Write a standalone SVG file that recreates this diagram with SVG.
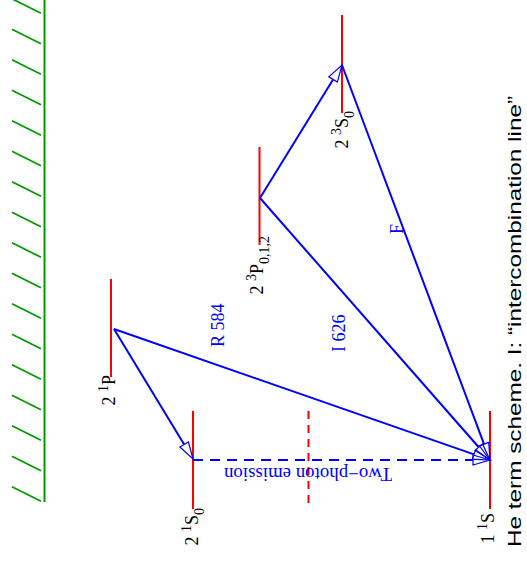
<svg xmlns="http://www.w3.org/2000/svg" width="527" height="565" viewBox="0 0 527 565">
<style>
.lvl{stroke:#ff0000;stroke-width:2;fill:none}
.tr{stroke:#0000ff;stroke-width:2;fill:none}
.hatch{stroke:#009a00;stroke-width:1.8}
.lbl{font-family:"Liberation Serif","Times New Roman",serif;font-size:18px;fill:#000}
.blue{font-family:"Liberation Serif","Times New Roman",serif;font-size:18px;fill:#0000ff}
.s{font-size:14px}
.cap{font-family:"Liberation Sans",Arial,sans-serif;font-size:18px;fill:#000}
</style>
<defs>
<marker id="ah" markerUnits="userSpaceOnUse" markerWidth="20" markerHeight="12" viewBox="0 0 20 12" refX="0" refY="6" orient="auto" overflow="visible">
<path d="M0,1 L17,6 L0,11 Z" fill="none" stroke="#0000ff" stroke-width="1.2"/>
</marker>
</defs>
<g id="wall">
<line x1="44.5" y1="0" x2="44.5" y2="502" stroke="#009a00" stroke-width="2"/>
<g class="hatch">
<line x1="12" y1="-1.2" x2="41" y2="13.3"/>
<line x1="12" y1="29.3" x2="41" y2="43.8"/>
<line x1="12" y1="59.8" x2="41" y2="74.3"/>
<line x1="12" y1="90.3" x2="41" y2="104.8"/>
<line x1="12" y1="120.8" x2="41" y2="135.3"/>
<line x1="12" y1="151.3" x2="41" y2="165.8"/>
<line x1="12" y1="181.8" x2="41" y2="196.3"/>
<line x1="12" y1="212.3" x2="41" y2="226.8"/>
<line x1="12" y1="242.8" x2="41" y2="257.3"/>
<line x1="12" y1="273.3" x2="41" y2="287.8"/>
<line x1="12" y1="303.8" x2="41" y2="318.3"/>
<line x1="12" y1="334.3" x2="41" y2="348.8"/>
<line x1="12" y1="364.8" x2="41" y2="379.3"/>
<line x1="12" y1="395.3" x2="41" y2="409.8"/>
<line x1="12" y1="425.8" x2="41" y2="440.3"/>
<line x1="12" y1="456.3" x2="41" y2="470.8"/>
<line x1="12" y1="486.8" x2="41" y2="501.3"/>
</g>
</g>
<g id="level-2-1P">
<line class="lvl" x1="111" y1="279" x2="111" y2="377"/>
<text class="lbl" transform="translate(115,375) rotate(-90)" text-anchor="end">2 <tspan class="s" dy="-7">1</tspan><tspan dy="7">P</tspan></text>
</g>
<g id="level-2-1S0">
<line class="lvl" x1="193" y1="411" x2="193" y2="509"/>
<text class="lbl" transform="translate(198,508) rotate(-90)" text-anchor="end">2 <tspan class="s" dy="-7">1</tspan><tspan dy="7">S</tspan><tspan class="s" dy="6">0</tspan></text>
</g>
<g id="level-2-3P">
<line class="lvl" x1="259.5" y1="147" x2="259.5" y2="245"/>
<text class="lbl" transform="translate(263,236) rotate(-90)" text-anchor="end">2 <tspan class="s" dy="-7">3</tspan><tspan dy="7">P</tspan><tspan class="s" dy="6">0,1,2</tspan></text>
</g>
<g id="level-2-3S0">
<line class="lvl" x1="342" y1="15" x2="342" y2="113"/>
<text class="lbl" transform="translate(348,111) rotate(-90)" text-anchor="end">2 <tspan class="s" dy="-7">3</tspan><tspan dy="7">S</tspan><tspan class="s" dy="6">0</tspan></text>
</g>
<g id="level-1-1S">
<line class="lvl" x1="490" y1="411" x2="490" y2="509"/>
<text class="lbl" transform="translate(494,513) rotate(-90)" text-anchor="end">1 <tspan class="s" dy="-7">1</tspan><tspan dy="7">S</tspan></text>
</g>
<g id="cut">
<line x1="308.5" y1="411" x2="308.5" y2="509" stroke="#ff0000" stroke-width="2" stroke-dasharray="8,6"/>
</g>
<g id="connectors">
<line class="tr" x1="114" y1="329" x2="184.17" y2="444.47" marker-end="url(#ah)"/>
<line class="tr" x1="114" y1="329" x2="473.95" y2="454.41" marker-end="url(#ah)"/>
<line class="tr" x1="260" y1="198" x2="333.08" y2="79.47" marker-end="url(#ah)"/>
<line class="tr" x1="260" y1="198" x2="478.78" y2="447.22" marker-end="url(#ah)"/>
<line class="tr" x1="342" y1="65" x2="484.03" y2="444.08" marker-end="url(#ah)"/>
<line class="tr" x1="193" y1="460" x2="473" y2="460" stroke-dasharray="10,7" marker-end="url(#ah)"/>
</g>
<g id="labels">
<text class="blue" transform="translate(224,347) rotate(-90)">R 584</text>
<text class="blue" transform="translate(345,352) rotate(-90)">I 626</text>
<text class="blue" transform="translate(403,234) rotate(-90)">F</text>
<text class="blue" transform="translate(392,468) rotate(180)" textLength="168" lengthAdjust="spacingAndGlyphs">Two−photon emission</text>
</g>
<text id="caption" class="cap" transform="translate(521,547) rotate(-90)" textLength="451" lengthAdjust="spacingAndGlyphs">He term scheme. I: “intercombination line”</text>
</svg>
